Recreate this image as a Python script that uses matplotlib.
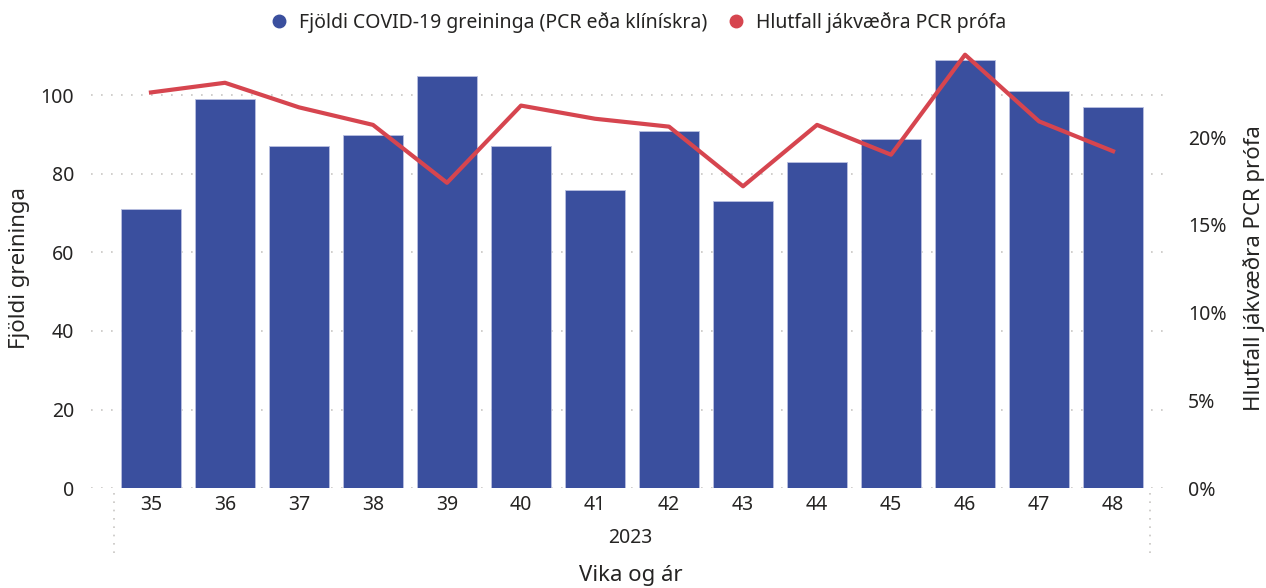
import numpy as np
import matplotlib.pyplot as plt
from matplotlib.lines import Line2D
from matplotlib.ticker import PercentFormatter

plt.rcParams['font.family'] = ['Noto Sans', 'DejaVu Sans']

weeks = ['35', '36', '37', '38', '39', '40', '41', '42', '43', '44', '45', '46', '47', '48']
year = '2023'
cases = [71, 99, 87, 90, 105, 87, 76, 91, 73, 83, 89, 109, 101, 97]
pos_rate = [0.2255, 0.231, 0.217, 0.207, 0.174, 0.218, 0.2105, 0.206, 0.172, 0.207, 0.190, 0.247, 0.209, 0.192]

bar_color = '#3A4F9E'
line_color = '#D6454F'
text_color = '#252423'
grid_color = '#C8C6C4'

fig = plt.figure(figsize=(12.66, 5.88), dpi=100)
ax = fig.add_axes([0.0719, 0.170, 0.8523, 0.748])
x = np.arange(len(weeks))

ax.bar(x, cases, width=0.8, color=bar_color, edgecolor='#B9C0E0', linewidth=0.6, zorder=2)
ax.set_xlim(-0.81, 13.77)
ax.set_ylim(0, 112)
ax.set_yticks([0, 20, 40, 60, 80, 100])
ax.set_xticks(x)
ax.set_xticklabels(weeks)
ax.set_axisbelow(True)
ax.grid(axis='y', color=grid_color, linestyle=(0, (1, 5)), linewidth=1.2)
ax.tick_params(axis='both', length=0, labelsize=14, labelcolor=text_color)
ax.tick_params(axis='y', pad=12)
ax.tick_params(axis='x', pad=5)
for s in ax.spines.values():
    s.set_visible(False)
ax.set_ylabel('Fjöldi greininga', fontsize=16, color=text_color, labelpad=8)

ax2 = ax.twinx()
ax2.plot(x, pos_rate, color=line_color, linewidth=3.0, solid_joinstyle='round', zorder=3)
ax2.set_ylim(0, 0.2507)
ax2.set_yticks([0, 0.05, 0.10, 0.15, 0.20])
ax2.yaxis.set_major_formatter(PercentFormatter(1.0, decimals=0))
ax2.tick_params(axis='y', length=0, labelsize=14, labelcolor=text_color, pad=13)
for s in ax2.spines.values():
    s.set_visible(False)
ax2.set_ylabel('Hlutfall jákvæðra PCR prófa', fontsize=16, color=text_color, labelpad=12)

# category separators below the axis
trans = ax.get_xaxis_transform()
for xv in [-0.5, len(weeks) - 0.5]:
    ax.plot([xv, xv], [-0.012, -0.152], transform=trans, color=grid_color,
            linestyle=(0, (1, 4)), linewidth=1.2, clip_on=False)

ax.text(0.5, -0.114, year, transform=ax.transAxes, ha='center', va='center',
        fontsize=14, color=text_color)
ax.text(0.5, -0.198, 'Vika og ár', transform=ax.transAxes, ha='center', va='center',
        fontsize=16, color=text_color)

handles = [
    Line2D([], [], marker='o', linestyle='none', markersize=9, color=bar_color),
    Line2D([], [], marker='o', linestyle='none', markersize=9, color=line_color),
]
labels = ['Fjöldi COVID-19 greininga (PCR eða klínískra)', 'Hlutfall jákvæðra PCR prófa']
fig.legend(handles, labels, loc='center', bbox_to_anchor=(0.5, 0.962), ncol=2,
           frameon=False, fontsize=14, handletextpad=0.0, columnspacing=0.5,
           labelcolor=text_color)

fig.savefig('out.png', dpi=100)
